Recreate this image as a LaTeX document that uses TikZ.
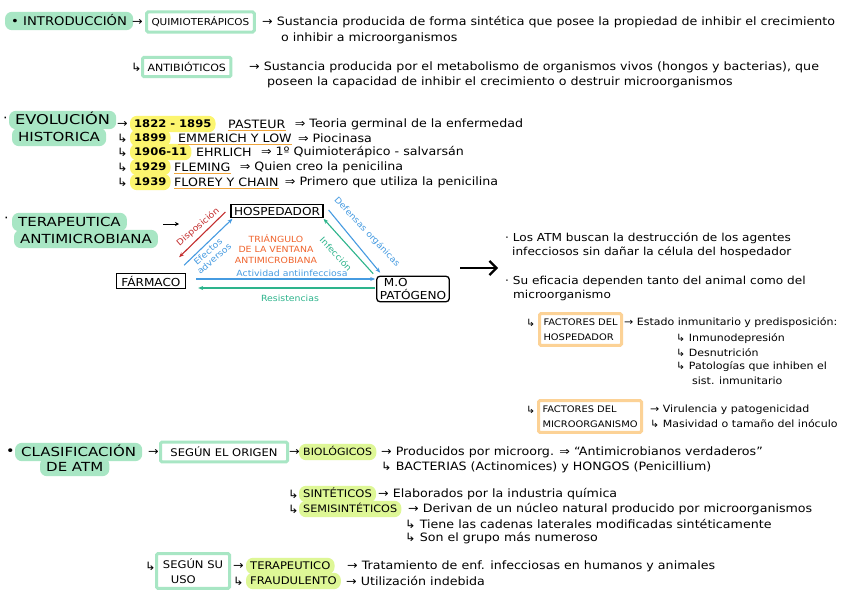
\documentclass[tikz,border=0pt]{standalone}
\usepackage{fontspec}
\setmainfont[FakeStretch=1.1]{DejaVu Sans}
\newfontfamily\headfont[FakeStretch=1.2]{DejaVu Sans}
\usetikzlibrary{arrows.meta,calc,backgrounds}
\definecolor{mint}{RGB}{168,230,196}
\definecolor{yel}{RGB}{252,245,110}
\definecolor{limeg}{RGB}{222,247,150}
\definecolor{obox}{RGB}{252,210,150}
\definecolor{ulor}{RGB}{240,165,60}
\definecolor{redar}{RGB}{195,45,45}
\definecolor{bluear}{RGB}{70,155,225}
\definecolor{tealar}{RGB}{45,180,140}
\definecolor{ortxt}{RGB}{240,100,45}
\newcommand\pillbg[4]{\fill[#2,rounded corners=7pt] ($(#1.north west)+(-#3,-#4)$) rectangle ($(#1.south east)+(#3,#4)$);}
\begin{document}
\begin{tikzpicture}[x=1pt,y=-1pt,
  txt/.style={anchor=west,inner sep=0pt,font=\fontsize{11.5}{13}\selectfont},
  stxt/.style={anchor=west,inner sep=0pt,font=\fontsize{10}{12}\selectfont},
  head/.style={anchor=west,inner sep=0pt,text height=10pt,text depth=1pt,font=\headfont\fontsize{12.5}{15}\selectfont},
  gframe/.style={anchor=west,draw=mint,line width=3pt,fill=white,rounded corners=1.5pt,inner xsep=5pt,inner ysep=5pt,font=\fontsize{9.5}{11}\selectfont},
  oframe/.style={anchor=west,draw=obox,line width=3pt,fill=white,rounded corners=1.5pt,inner xsep=4pt,inner ysep=5pt,align=left,font=\fontsize{9}{15}\selectfont},
  yhl/.style={anchor=west,inner sep=0pt,text height=8pt,text depth=1pt,font=\bfseries\fontsize{10.5}{12}\selectfont},
  lhl/.style={anchor=west,inner sep=0pt,text height=8pt,text depth=1pt,font=\fontsize{10}{12}\selectfont},
  ul/.style={draw=ulor,line width=1pt},
  bbox/.style={draw=black,line width=1.3pt,fill=white,inner xsep=3pt,inner ysep=2pt,font=\fontsize{11}{13}\selectfont},
  tarr/.style={line width=1.1pt,-{Stealth[length=5pt,width=4pt]}},
  lab/.style={inner sep=0pt,font=\fontsize{8.5}{9.5}\selectfont}
]
\useasboundingbox (0,0) rectangle (848,599);

% ---------- INTRODUCCION ----------
\node[head,font=\fontsize{12}{15}\selectfont] (intro) at (11,21) {• INTRODUCCIÓN};
\node[txt] (i1) at (132,22) {→};
\node[gframe] (quimio) at (145,22) {QUIMIOTERÁPICOS};
\node[txt] (qdef) at (262,22) {→ Sustancia producida de forma sintética que posee la propiedad de inhibir el crecimiento};
\node[txt] (qdef2) at (281,38) {o inhibir a microorganismos};
\node[txt] (h1) at (131,67) {↳};
\node[gframe,font=\fontsize{10}{12}\selectfont] (antib) at (141,67) {ANTIBIÓTICOS};
\node[txt] (adef) at (249,67) {→ Sustancia producida por el metabolismo de organismos vivos (hongos y bacterias), que};
\node[txt] (adef2) at (267,82) {poseen la capacidad de inhibir el crecimiento o destruir microorganismos};

% ---------- EVOLUCION HISTORICA ----------
\node[txt,font=\fontsize{13}{15}\selectfont] (evb) at (3,120) {·};
\node[head,font=\headfont\fontsize{13.5}{15}\selectfont] (evo) at (15,120) {EVOLUCIÓN};
\node[head] (hist) at (18,137) {HISTORICA};

\node[txt] (e1) at (117,124) {→};
\node[yhl] (d1) at (134,124) {1822 - 1895};
\node[txt] (p1) at (228,124) {PASTEUR};
\node[txt] (t1) at ([xshift=9pt]p1.east) {⇒ Teoria germinal de la enfermedad};
\draw[ul] ($(p1.south west)+(0,2)$) -- ($(p1.south east)+(0,2)$);

\node[txt] (e2) at (117,138) {↳};
\node[yhl] (d2) at (134,138) {1899};
\node[txt] (p2) at (178,138) {EMMERICH Y LOW};
\node[txt] (t2) at ([xshift=6pt]p2.east) {⇒ Piocinasa};
\draw[ul] ($(p2.south west)+(0,2)$) -- ($(p2.south east)+(0,2)$);

\node[txt] (e3) at (117,152) {↳};
\node[yhl] (d3) at (134,152) {1906-11};
\node[txt] (p3) at (196,152) {EHRLICH};
\node[txt] (t3) at ([xshift=9pt]p3.east) {⇒ 1º Quimioterápico - salvarsán};

\node[txt] (e4) at (117,167) {↳};
\node[yhl] (d4) at (134,167) {1929};
\node[txt] (p4) at (174,167) {FLEMING};
\node[txt] (t4) at ([xshift=9pt]p4.east) {⇒ Quien creo la penicilina};
\draw[ul] ($(p4.south west)+(0,2)$) -- ($(p4.south east)+(0,2)$);

\node[txt] (e5) at (117,182) {↳};
\node[yhl] (d5) at (134,182) {1939};
\node[txt] (p5) at (174,182) {FLOREY Y CHAIN};
\node[txt] (t5) at ([xshift=6pt]p5.east) {⇒ Primero que utiliza la penicilina};
\draw[ul] ($(p5.south west)+(0,2)$) -- ($(p5.south east)+(0,2)$);

% ---------- TERAPEUTICA ANTIMICROBIANA ----------
\node[txt,font=\fontsize{13}{15}\selectfont] (tb) at (4,220) {·};
\node[head] (tera) at (18,222) {TERAPEUTICA};
\node[head] (anti) at (20,239) {ANTIMICROBIANA};
\coordinate (tas) at (163,224);
\coordinate (tae) at (179,224);
\draw[line width=0.9pt,-{Stealth[length=4pt,width=4pt]}] (tas) -- (tae);

\node[bbox] (hosp) at (277,211) {HOSPEDADOR};
\node[bbox,inner xsep=5pt] (farm) at (151,281) {FÁRMACO};
\node[bbox,rounded corners=3pt,align=left] (mo) at (413,289) {\hspace{4pt}M.O\\PATÓGENO};

\draw[tarr,draw=redar] ($(hosp.west)+(-5,1)$) -- ($(farm.north east)+(-7,-16)$);
\draw[tarr,draw=bluear] ($(farm.north east)+(-2,-8)$) -- ($(hosp.south west)+(2,1)$);
\draw[tarr,draw=bluear] ($(hosp.east)+(5,-1)$) -- ($(mo.north west)+(4,-3)$);
\draw[tarr,draw=tealar] ($(mo.north west)+(-3,-2)$) -- ($(hosp.south east)+(0,1)$);
\draw[tarr,draw=bluear] ($(farm.east)+(10,-2)$) -- ($(mo.west)+(-1,-10)$);
\draw[tarr,draw=tealar] ($(mo.west)+(-1,-1)$) -- ($(farm.east)+(12,7)$);

\node[lab,text=redar,rotate=41] (ldisp) at (198,227) {Disposición};
\node[lab,text=bluear,rotate=41,align=center] (lefec) at (211,255) {Efectos\\adversos};
\node[lab,text=bluear,rotate=-47] (ldef) at (367,232) {Defensas orgánicas};
\node[lab,text=tealar,rotate=-47] (linf) at (336,254) {Infección};
\node[lab,text=bluear] (lact) at (292,273) {Actividad antiinfecciosa};
\node[lab,text=tealar] (lres) at (290,298) {Resistencias};
\node[lab,text=ortxt,align=center,font=\fontsize{8.5}{10.5}\selectfont] (ltri) at (276,249) {TRIÁNGULO\\DE LA VENTANA\\ANTIMICROBIANA};

\coordinate (bigs) at (460,268);
\coordinate (bige) at (498,268);
\draw[line width=2.3pt,-{Straight Barb[length=7pt,width=14pt,line width=2.3pt]}] (bigs) -- (bige);

\node[stxt,font=\fontsize{11}{12}\selectfont] (b1) at (505,238) {· Los ATM buscan la destrucción de los agentes};
\node[stxt,font=\fontsize{11}{12}\selectfont] (b1b) at (512,252) {infecciosos sin dañar la célula del hospedador};
\node[stxt,font=\fontsize{11}{12}\selectfont] (b2) at (505,281) {· Su eficacia dependen tanto del animal como del};
\node[stxt,font=\fontsize{11}{12}\selectfont] (b2b) at (513,295) {microorganismo};

\node[stxt] (fh0) at (526,323) {↳};
\node[oframe] (fhosp) at (538,329.5) {FACTORES DEL\\HOSPEDADOR};
\node[stxt] (fh1) at (624,323) {→ Estado inmunitario y predisposición:};
\node[stxt] (fh2) at (676,339) {↳ Inmunodepresión};
\node[stxt] (fh3) at (676,353) {↳ Desnutrición};
\node[stxt] (fh4) at (676,367) {↳ Patologías que inhiben el};
\node[stxt] (fh5) at (692,381) {sist. inmunitario};

\node[stxt] (fm0) at (526,410) {↳};
\node[oframe,font=\fontsize{9}{15}\selectfont] (fmicro) at (537,416.5) {FACTORES DEL\\MICROORGANISMO};
\node[stxt] (fm1) at (650,410) {→ Virulencia y patogenicidad};
\node[stxt] (fm2) at (650,424) {↳ Masividad o tamaño del inóculo};

% ---------- CLASIFICACION ----------
\node[txt,font=\fontsize{13}{15}\selectfont] (cb) at (6,452) {•};
\node[head] (clas) at (21,452) {CLASIFICACIÓN};
\node[head] (datm) at (46,467) {DE ATM};
\node[txt] (c1) at (148,452) {→};
\node[gframe,minimum width=127pt,font=\fontsize{10.5}{12}\selectfont] (origen) at (159,452) {SEGÚN EL ORIGEN};
\node[txt] (c2) at (289,452) {→};
\node[lhl] (bio) at (303,452) {BIOLÓGICOS};
\node[txt] (bio1) at (381,452) {→ Producidos por microorg. ⇒ “Antimicrobianos verdaderos”};
\node[txt] (bio2) at (381,467) {↳ BACTERIAS (Actinomices) y HONGOS (Penicillium)};

\node[txt] (hs) at (288,494) {↳};
\node[lhl,font=\fontsize{10.5}{12}\selectfont] (sint) at (303,494) {SINTÉTICOS};
\node[txt] (sint1) at (378,494) {→ Elaborados por la industria química};
\node[txt] (hm) at (288,509) {↳};
\node[lhl,font=\fontsize{10.2}{12}\selectfont] (semi) at (303,509) {SEMISINTÉTICOS};
\node[txt] (semi1) at (408,509) {→ Derivan de un núcleo natural producido por microorganismos};
\node[txt] (semi2) at (405,524) {↳ Tiene las cadenas laterales modificadas sintéticamente};
\node[txt] (semi3) at (405,538) {↳ Son el grupo más numeroso};

\node[txt] (hu) at (145,566) {↳};
\node[gframe,align=left,font=\fontsize{10.5}{15}\selectfont,minimum width=73pt] (uso) at (155,571) {SEGÚN SU\\\hspace{8pt}USO};
\node[txt] (c3) at (233,566) {→};
\node[lhl,font=\fontsize{10.5}{12}\selectfont] (ter) at (250,566) {TERAPEUTICO};
\node[txt] (ter1) at (347,566) {→ Tratamiento de enf. infecciosas en humanos y animales};
\node[txt] (c4) at (233,581) {↳};
\node[lhl,font=\fontsize{10.5}{12}\selectfont] (fra) at (250,581) {FRAUDULENTO};
\node[txt] (fra1) at (346,581) {→ Utilización indebida};

% ---------- highlight backgrounds ----------
\begin{pgfonlayer}{background}
\fill[white] (0,0) rectangle (848,599);
\pillbg{intro}{mint}{6}{3.5}
\pillbg{evo}{mint}{6}{3.5}
\pillbg{hist}{mint}{6}{3.5}
\pillbg{tera}{mint}{6}{3.5}
\pillbg{anti}{mint}{6}{3.5}
\pillbg{clas}{mint}{6}{3.5}
\pillbg{datm}{mint}{6}{3.5}
\pillbg{d1}{yel}{4}{3.5}
\pillbg{d2}{yel}{4}{3.5}
\pillbg{d3}{yel}{4}{3.5}
\pillbg{d4}{yel}{4}{3.5}
\pillbg{d5}{yel}{4}{3.5}
\pillbg{bio}{limeg}{4}{3.5}
\pillbg{sint}{limeg}{4}{3.5}
\pillbg{semi}{limeg}{4}{3.5}
\pillbg{ter}{limeg}{4}{3.5}
\pillbg{fra}{limeg}{4}{3.5}
\end{pgfonlayer}
\end{tikzpicture}
\end{document}
